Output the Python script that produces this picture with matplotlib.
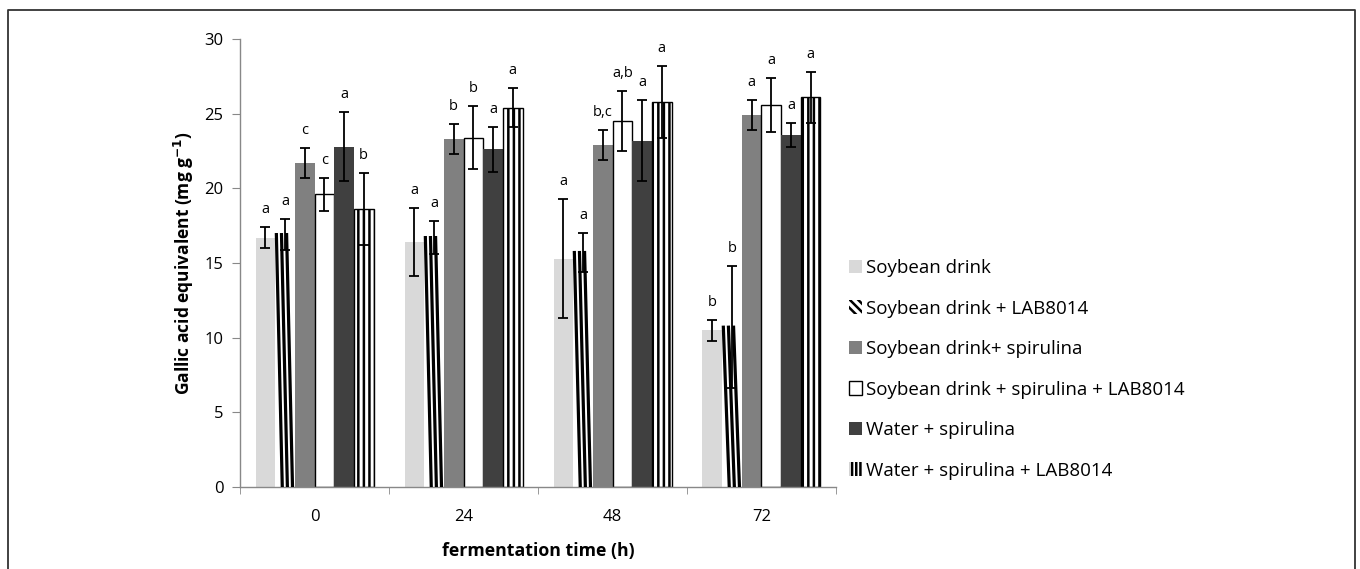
import numpy as np
import matplotlib
matplotlib.use("Agg")
import matplotlib.pyplot as plt
from matplotlib.patches import Patch
from matplotlib.lines import Line2D

plt.rcParams['font.family'] = ['Open Sans', 'DejaVu Sans']
plt.rcParams['hatch.linewidth'] = 1.8

# dados: fenois totais (equivalente de acido galico) por tempo de fermentacao
tempos = ['0', '24', '48', '72']
series = ['Soybean drink', 'Soybean drink + LAB8014', 'Soybean drink+ spirulina',
          'Soybean drink + spirulina + LAB8014', 'Water + spirulina',
          'Water + spirulina + LAB8014']

soja = [16.7, 16.4, 15.3, 10.5]
soja_lab = [16.9, 16.7, 15.7, 10.7]
soja_spir = [21.7, 23.3, 22.9, 24.9]
soja_spir_lab = [19.6, 23.4, 24.5, 25.6]
agua_spir = [22.8, 22.6, 23.2, 23.6]
agua_spir_lab = [18.6, 25.4, 25.8, 26.1]

erro_soja = [0.7, 2.3, 4.0, 0.7]
erro_soja_lab = [1.05, 1.1, 1.3, 4.1]
erro_soja_spir = [1.0, 1.0, 1.0, 1.0]
erro_soja_spir_lab = [1.1, 2.1, 2.0, 1.8]
erro_agua_spir = [2.3, 1.5, 2.7, 0.8]
erro_agua_spir_lab = [2.4, 1.3, 2.4, 1.7]

letras = [['a', 'a', 'a', 'b'],
          ['a', 'a', 'a', 'b'],
          ['c', 'b', 'b,c', 'a'],
          ['c', 'b', 'a,b', 'a'],
          ['a', 'a', 'a', 'a'],
          ['b', 'a', 'a', 'a']]

valores = [soja, soja_lab, soja_spir, soja_spir_lab, agua_spir, agua_spir_lab]
erros = [erro_soja, erro_soja_lab, erro_soja_spir, erro_soja_spir_lab,
         erro_agua_spir, erro_agua_spir_lab]

# estilo de cada serie: (cor, borda, hachura)
estilos = [('#d9d9d9', 'none', None),
           ('white', 'none', 'diag'),
           ('#808080', 'none', None),
           ('white', 'black', None),
           ('#404040', 'none', None),
           ('white', 'black', '|||')]

fig = plt.figure(figsize=(13.6, 5.69), dpi=100)
ax = fig.add_axes([0.1765, 0.1441, 0.4382, 0.7874])

x = np.arange(len(tempos))
larg = 0.132

for j in range(len(series)):
    cor, borda, hach = estilos[j]
    pos = x + (j - 2.5) * larg
    barras = ax.bar(pos, valores[j], larg, color=cor, edgecolor=borda,
                    linewidth=1.0, hatch=hach if hach != 'diag' else None, zorder=2)
    if hach == 'diag':
        # listras pretas inclinadas dentro da barra
        for b in barras:
            x0, w, h = b.get_x(), b.get_width(), b.get_height()
            for f in (0.36, 0.62, 0.88):
                ln = Line2D([x0 + f * w, x0 + (f - 0.3) * w], [0, h],
                            color='black', lw=2.3, zorder=3)
                ln.set_clip_path(b)
                ax.add_line(ln)
    ax.errorbar(pos, valores[j], yerr=erros[j], fmt='none', ecolor='black',
                elinewidth=1.3, capsize=3.5, capthick=1.3, zorder=4)
    for k in range(len(tempos)):
        ax.annotate(letras[j][k], (pos[k], valores[j][k] + erros[j][k]),
                    xytext=(0, 10), textcoords='offset points',
                    ha='center', va='baseline', fontsize=10.5)

ax.set_ylim(0, 30)
ax.set_xlim(-0.5, 3.5)
ax.set_yticks(range(0, 31, 5))
ax.set_xticks(x)
ax.set_xticklabels(tempos)
ax.set_xticks(np.arange(-0.5, 4.0, 1.0), minor=True)
ax.tick_params(axis='x', which='major', length=0, pad=16, labelsize=12)
ax.tick_params(axis='x', which='minor', length=5, color='#888888', direction='out')
ax.tick_params(axis='y', length=6, color='#888888', labelsize=12, pad=6)

for lado in ['top', 'right']:
    ax.spines[lado].set_visible(False)
for lado in ['left', 'bottom']:
    ax.spines[lado].set_color('#888888')
    ax.spines[lado].set_linewidth(1.0)

ax.set_ylabel('Gallic acid equivalent (mg g$^{\\mathbf{-1}}$)', fontweight='bold',
              fontsize=12.5, labelpad=6)
ax.set_xlabel('fermentation time (h)', fontweight='bold', fontsize=12.8, labelpad=12)

# legenda
alcas = [Patch(facecolor='#d9d9d9', edgecolor='none'),
         Patch(facecolor='white', edgecolor='black', hatch='\\\\\\\\', linewidth=0),
         Patch(facecolor='#808080', edgecolor='none'),
         Patch(facecolor='white', edgecolor='black', linewidth=1.0),
         Patch(facecolor='#404040', edgecolor='none'),
         Patch(facecolor='white', edgecolor='black', hatch='||||', linewidth=0)]
fig.legend(alcas, series, loc='center left', bbox_to_anchor=(0.624, 0.351),
           frameon=False, fontsize=13.5, handlelength=0.7, handleheight=0.7,
           handletextpad=0.25, labelspacing=1.2, borderpad=0, borderaxespad=0)

# moldura da figura
fig.add_artist(Line2D([0.006, 0.006, 0.9965, 0.9965], [0.0, 0.982, 0.982, 0.0],
                      transform=fig.transFigure, color='#333333', lw=1.3))

fig.savefig('out.png', dpi=100)
